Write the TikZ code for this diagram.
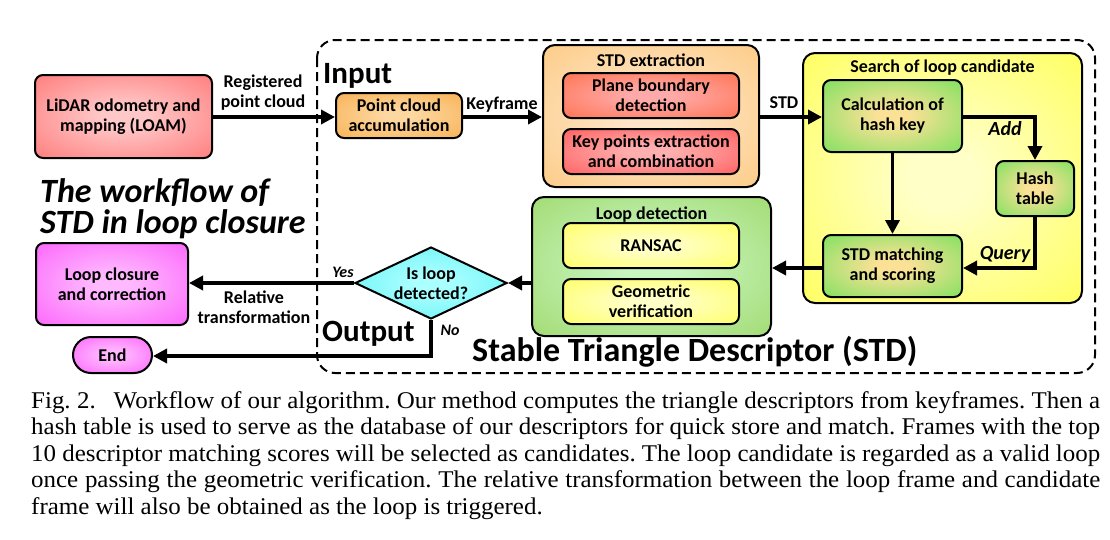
\documentclass[tikz,border=0pt]{standalone}
\usepackage{fontspec}
\setmainfont{Carlito}
\newfontfamily\capfont[FakeStretch=1.04]{Liberation Serif}
\usetikzlibrary{arrows.meta,shapes.geometric,calc}
\definecolor{lidarIn}{RGB}{255,200,200}\definecolor{lidarOut}{RGB}{255,90,90}
\definecolor{pcaIn}{RGB}{253,215,160}\definecolor{pcaOut}{RGB}{245,160,50}
\definecolor{stdIn}{RGB}{255,230,200}\definecolor{stdOut}{RGB}{251,192,106}
\definecolor{pbdIn}{RGB}{255,170,170}\definecolor{pbdOut}{RGB}{255,90,40}
\definecolor{kpeIn}{RGB}{255,175,175}\definecolor{kpeOut}{RGB}{255,60,60}
\definecolor{srchIn}{RGB}{255,255,200}\definecolor{srchOut}{RGB}{255,255,48}
\definecolor{grnIn}{RGB}{250,225,150}\definecolor{grnOut}{RGB}{70,225,70}
\definecolor{ldIn}{RGB}{200,245,192}\definecolor{ldOut}{RGB}{146,208,80}
\definecolor{ylwIn}{RGB}{255,255,200}\definecolor{ylwOut}{RGB}{255,255,60}
\definecolor{cyIn}{RGB}{170,255,255}\definecolor{cyOut}{RGB}{64,235,240}
\definecolor{mgIn}{RGB}{255,185,255}\definecolor{mgOut}{RGB}{250,64,250}
\newcommand\mkshade[3]{\pgfdeclareradialshading{#1}{\pgfpoint{0bp}{0bp}}{color(0bp)=(#2); color(6bp)=(#2); color(50bp)=(#3); color(72bp)=(#3)}}
\mkshade{shLidar}{lidarIn}{lidarOut}
\mkshade{shPca}{pcaIn}{pcaOut}
\mkshade{shStd}{stdIn}{stdOut}
\mkshade{shPbd}{pbdIn}{pbdOut}
\mkshade{shKpe}{kpeIn}{kpeOut}
\mkshade{shSrch}{srchIn}{srchOut}
\mkshade{shGrn}{grnIn}{grnOut}
\mkshade{shLd}{ldIn}{ldOut}
\mkshade{shYlw}{ylwIn}{ylwOut}
\mkshade{shCy}{cyIn}{cyOut}
\mkshade{shMg}{mgIn}{mgOut}
\tikzset{
  txt/.style={font=\bfseries\fontsize{18}{20}\selectfont, align=center},
  box/.style={txt, draw=black, line width=2pt, rounded corners=8pt, inner sep=0pt},
  group/.style={draw=black, line width=2pt, rounded corners=12pt, inner sep=0pt},
  flow/.style={line width=3.6pt, -{Triangle[length=14pt,width=14pt]}},
  lbl/.style={txt},
  ilbl/.style={font=\bfseries\itshape\fontsize{20}{22}\selectfont},
  big/.style={font=\bfseries\fontsize{31}{33}\selectfont, anchor=base west, inner sep=0pt},
  capline/.style={font=\capfont\fontsize{24}{26}\selectfont\frenchspacing, anchor=base west, inner sep=0pt},
}
\begin{document}
\begin{tikzpicture}[x=1pt,y=-1pt]
\useasboundingbox (0,0) rectangle (1110,539);
% dashed frame
\draw[line width=2pt, dash pattern=on 9pt off 5pt, rounded corners=18pt] (317,40) rectangle (1095,373);
% groups
\node[group, shading=shStd, minimum width=216pt, minimum height=142pt] (stdx) at (651,116) {};
\node[txt, anchor=base] (stdxt) at (651,66) {STD extraction};
\node[group, shading=shSrch, minimum width=279pt, minimum height=250pt] (srch) at (942.5,178) {};
\node[txt, anchor=base] (srcht) at (942.5,72) {Search of loop candidate};
\node[group, shading=shLd, minimum width=239pt, minimum height=139pt] (ld) at (651.5,266.5) {};
\node[txt, anchor=base] (ldt) at (651.5,219) {Loop detection};
% boxes
\node[box, shading=shLidar, minimum width=177pt, minimum height=83pt] (lidar) at (123.5,116.5) {LiDAR odometry and\\mapping (LOAM)};
\node[box, shading=shPca, minimum width=126pt, minimum height=45pt] (pca) at (399,115.5) {Point cloud\\accumulation};
\node[box, shading=shPbd, minimum width=176pt, minimum height=45pt] (pbd) at (651,95.5) {Plane boundary\\detection};
\node[box, shading=shKpe, minimum width=176pt, minimum height=45pt] (kpe) at (651,151.5) {Key points extraction\\and combination};
\node[box, shading=shGrn, minimum width=139pt, minimum height=72pt] (calc) at (892.5,116) {Calculation of\\hash key};
\node[box, shading=shGrn, minimum width=78pt, minimum height=55pt] (hash) at (1035,188.5) {Hash\\table};
\node[box, shading=shGrn, minimum width=139pt, minimum height=62pt] (match) at (892.5,266) {STD matching\\and scoring};
\node[box, shading=shYlw, minimum width=176pt, minimum height=45pt] (ransac) at (651,245.5) {RANSAC};
\node[box, shading=shYlw, minimum width=176pt, minimum height=45pt] (geo) at (651,301.5) {Geometric\\verification};
\node[txt, draw=black, line width=2pt, shading=shCy, diamond, aspect=2.11, minimum width=152pt, minimum height=72pt, inner sep=0pt] (dec) at (431,283) {Is loop\\detected?};
\node[box, shading=shMg, minimum width=152pt, minimum height=82pt] (close) at (112,284) {Loop closure\\and correction};
\node[box, shading=shMg, rounded corners=18pt, minimum width=79pt, minimum height=36pt] (end) at (112.5,355) {End};
% arrows
\draw[flow] (lidar.east |- 0,117) -- (pca.west |- 0,117);
\draw[flow] (pca.east |- 0,117) -- (stdx.west |- 0,117);
\draw[flow] (stdx.east |- 0,117) -- (calc.west |- 0,117);
\draw[flow] (calc.east |- 0,117) -- (hash.north |- 0,117) -- (hash.north);
\draw[flow] (calc.south) -- (match.north);
\draw[flow] (hash.south) -- (hash.south |- 0,268) -- (match.east |- 0,268);
\draw[flow] (match.west |- 0,268) -- (ld.east |- 0,268);
\draw[flow] (ld.west |- 0,283) -- (dec.east);
\draw[flow] (dec.west) -- (close.east |- 0,283);
\draw[flow] (dec.south) -- (dec.south |- 0,356) -- (end.east |- 0,356);
% labels
\node[lbl] (lreg) at (263,93) {Registered\\point cloud};
\node[lbl, anchor=base] (lkey) at (502,109) {Keyframe};
\node[lbl, anchor=base] (lstd) at (784,108) {STD};
\node[ilbl, anchor=base] (ladd) at (1005,135) {Add};
\node[ilbl, anchor=base] (lq) at (1005,259) {Query};
\node[font=\bfseries\itshape\fontsize{16}{18}\selectfont, anchor=base] (lyes) at (343,277) {Yes};
\node[font=\bfseries\itshape\fontsize{16}{18}\selectfont, anchor=base] (lno) at (450,335) {No};
\node[lbl] (lrel) at (254,307) {Relative\\transformation};
\node[big] (tin) at (323,83) {Input};
\node[big] (tout) at (322,341) {Output};
\node[big, font=\bfseries\fontsize{34}{36}\selectfont] (tstd) at (472,361) {Stable Triangle Descriptor (STD)};
\node[font=\bfseries\itshape\fontsize{34}{30}\selectfont, anchor=base west, inner sep=0pt] (tw1) at (40,202) {The workflow of};
\node[font=\bfseries\itshape\fontsize{34}{30}\selectfont, anchor=base west, inner sep=0pt] (tw2) at (40,233) {STD in loop closure};
% caption
\node[capline] (c1) at (31,408) {\makebox[1069pt][s]{Fig. 2.\hspace{18pt}Workflow of our algorithm. Our method computes the triangle descriptors from keyframes. Then a}};
\node[capline] (c2) at (31,434.5) {\makebox[1069pt][s]{hash table is used to serve as the database of our descriptors for quick store and match. Frames with the top}};
\node[capline] (c3) at (31,461) {\makebox[1069pt][s]{10 descriptor matching scores will be selected as candidates. The loop candidate is regarded as a valid loop}};
\node[capline] (c4) at (31,487.5) {\makebox[1069pt][s]{once passing the geometric verification. The relative transformation between the loop frame and candidate}};
\node[capline] (c5) at (31,514) {frame will also be obtained as the loop is triggered.};
\end{tikzpicture}
\end{document}
